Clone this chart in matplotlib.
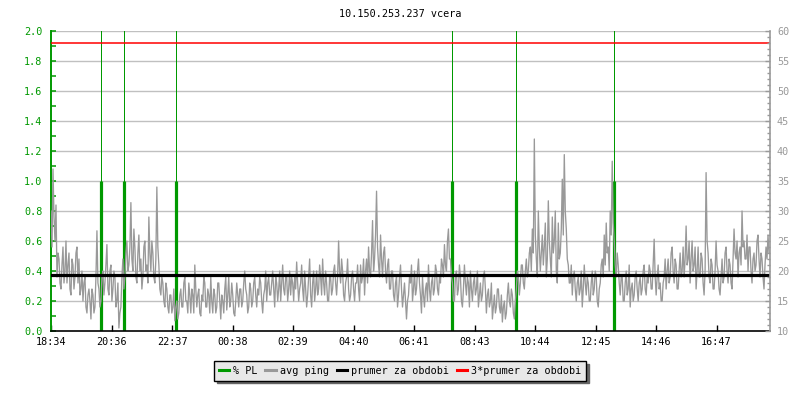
import matplotlib
matplotlib.use("Agg")
import matplotlib.pyplot as plt
from matplotlib.lines import Line2D
import numpy as np

plt.rcParams['font.family'] = ['DejaVu Sans Mono']

title = "10.150.253.237 vcera"
tick_labels = ["18:34", "20:36", "22:37", "00:38", "02:39", "04:40", "06:41",
               "08:43", "10:44", "12:45", "14:46", "16:47"]
tick_minutes = [0, 122, 243, 364, 485, 606, 727, 849, 970, 1091, 1212, 1333]
span_minutes = 1440

# avg ping (ms), one sample every 2 minutes starting 18:34
avg_ping = [
    30, 24, 37, 29, 25, 31, 19, 23, 22, 18, 17, 21, 24, 18, 20, 25, 18, 21, 23, 17,
    16, 22, 21, 17, 19, 23, 24, 18, 22, 16, 17, 20, 15, 18, 19, 14, 13, 16, 17, 15,
    12, 17, 16, 13, 14, 19, 26.7, 18, 17, 14, 15, 19, 20, 16, 18, 21, 24.4, 17, 16, 20,
    21, 15, 17, 20, 19, 14, 15, 18, 10.5, 13, 14, 19, 22, 17, 19, 23, 25, 20, 21, 24,
    31.4, 22, 20, 27, 24, 19, 18, 23, 26, 20, 22, 17, 19, 24, 25, 20, 21, 18, 29, 23,
    20, 25, 23, 19, 18, 22, 34, 24, 21, 17, 16, 19, 18, 15, 14, 18, 17, 14, 13, 16,
    16, 13, 14, 17, 11.7, 14, 15, 12, 13, 16, 17, 14, 14, 18, 19, 15, 15, 13, 18, 16,
    13, 17, 16, 13, 21, 17, 14, 16, 17, 13, 12.5, 16, 15, 19, 18, 14, 14, 17, 16, 13,
    19, 15, 13, 17, 16, 13, 14, 18, 18, 15, 12, 16, 15, 13, 17, 19, 13.5, 16, 19, 14,
    15, 18, 16, 13, 12.5, 15, 18, 16, 14, 17, 17, 14, 15, 18, 20, 17, 16, 13, 14, 18,
    17, 14, 15, 18, 19, 16, 14, 17, 16, 19, 18, 15, 13, 16, 17, 20, 15, 18, 19, 16,
    16, 18, 20, 17, 14, 19, 18, 15, 17, 20, 15, 18, 21, 17, 16, 19, 19, 15, 17, 20,
    16, 19, 18, 15, 19, 17, 21.5, 18, 15, 17, 18, 21, 17, 15, 20, 17, 14, 16, 19, 22,
    16, 14, 18, 20, 15, 17, 20, 16, 17, 21, 19, 16, 22, 18, 16, 20, 18, 15, 15, 19,
    19, 16, 17, 20, 21, 18, 16, 19, 25, 20, 18, 22, 20, 16, 15, 18, 19, 22, 17, 15,
    16, 19, 20, 17, 15, 18, 18, 21, 17, 15, 21, 18, 19, 22, 16, 20, 22, 18, 24, 20,
    19, 23, 28.4, 20, 22, 26, 33.3, 24, 21, 19, 26, 22, 19, 23, 24, 20, 18, 21, 22, 17,
    17, 20, 20, 16, 15, 18, 19, 14, 16, 19, 21, 17, 14, 16, 18, 15, 12, 15, 16, 19,
    18, 21, 15, 17, 20, 16, 17, 20, 22, 18, 16, 13, 19, 16, 14, 17, 18, 15, 21, 17,
    15, 18, 19, 16, 17, 21, 20, 17, 16, 19, 18, 22, 21, 19, 24.4, 21, 20, 25, 27, 22,
    22, 19, 18, 15, 15, 19, 20, 16, 17, 21, 19, 15, 14, 17, 21, 18, 16, 19, 18, 14,
    20, 17, 15, 18, 19, 16, 17, 20, 14, 16, 18, 15, 16, 19, 20, 17, 13, 16, 17, 14,
    15, 18, 12, 14, 16, 13, 14, 17, 17, 14, 13, 16, 11.5, 14, 15, 12, 13, 16, 18, 15,
    14, 17, 16, 13, 12, 15, 17, 20, 19, 16, 18, 21, 21, 18, 17, 20, 22, 19, 20, 23,
    24, 20, 27, 23, 42, 26, 22, 19, 30, 24, 20, 23, 26, 21, 24, 28, 19, 22, 31.7, 25,
    22, 19, 29, 23, 25, 30, 20, 18, 28, 22, 23, 27, 35.3, 26, 39.4, 30, 27, 22, 21, 18,
    18, 21, 16, 19, 20, 17, 15, 18, 19, 16, 17, 20, 14, 17, 21, 18, 16, 19, 18, 15,
    15, 18, 20, 16, 17, 20, 19, 15, 14, 17, 18, 21, 22, 19, 26, 21, 28, 23, 24, 20,
    30, 26, 38.3, 28, 25, 21, 19, 23, 21, 18, 16, 19, 19, 15, 15, 18, 20, 16, 17, 21,
    14, 17, 18, 15, 16, 19, 20, 17, 15, 18, 19, 16, 17, 20, 21, 17, 16, 19, 18, 21,
    20, 17, 17, 21, 25.3, 19, 16, 19, 21, 17, 18, 15, 15, 18, 19, 22, 17, 20, 22, 18,
    19, 23, 24, 20, 18, 22, 21, 17, 17, 20, 23, 19, 20, 24, 19, 22, 27.5, 21, 22, 25,
    18, 22, 25, 20, 21, 24, 17, 20, 24, 19, 19, 23, 22, 18, 16, 20, 36.4, 25, 23, 19,
    18, 22, 21, 17, 17, 20, 25, 21, 20, 17, 16, 19, 22, 18, 19, 23, 24, 20, 18, 22,
    21, 18, 17, 22, 27, 23, 22, 25, 19, 23, 24, 21, 30, 24, 25, 22, 22, 26, 20, 24,
    24, 20, 18, 22, 23, 20, 21, 25, 26, 22, 19, 23, 22, 19, 17, 21, 24, 22, 26, 23,
]

# packet loss events (minutes after 18:34) and loss in %
pl_minutes = [100, 146, 250, 804, 932, 1128]
pl_values = [1.0, 1.0, 1.0, 1.0, 1.0, 1.0]

mean_pl_axis = 0.373   # "prumer za obdobi" on the % PL scale
left_lim = (0.0, 2.0)
right_lim = (10, 60)

GREEN = "#009900"
GRAY = "#999999"
GRID = "#c0c0c0"

fig = plt.figure(figsize=(8, 4), dpi=100)
ax = fig.add_axes([51 / 800, 69 / 400, 719 / 800, 300 / 400])
ax2 = ax.twinx()

ax.set_xlim(0, span_minutes)
ax.set_ylim(*left_lim)
ax2.set_ylim(*right_lim)

# grid
for v in np.arange(0.2, 2.01, 0.2):
    ax.axhline(v, color=GRID, lw=1.0, zorder=1)

# packet loss
for m, v in zip(pl_minutes, pl_values):
    ax.axvline(m, color=GREEN, lw=0.72, zorder=2, antialiased=False)
    ax.vlines(m, 0, v, color=GREEN, lw=2.3, zorder=2)

# avg ping on right scale -> converted to the left scale to keep drawing order
x = np.linspace(0, span_minutes, len(avg_ping), endpoint=False)
ping = np.array(avg_ping, dtype=float)
ping_left = (ping - right_lim[0]) / (right_lim[1] - right_lim[0]) * (left_lim[1] - left_lim[0])
ax.plot(x, ping_left, color=GRAY, lw=0.95, zorder=3)

# mean and 3*mean
ax.axhline(mean_pl_axis, color="black", lw=2.3, zorder=4)
mean_ping = right_lim[0] + mean_pl_axis / left_lim[1] * (right_lim[1] - right_lim[0])
three_mean = 3 * mean_ping
ax.axhline((three_mean - right_lim[0]) / (right_lim[1] - right_lim[0]) * left_lim[1],
           color="red", lw=1.1, zorder=5)

# left axis
ax.set_yticks(np.arange(0, 2.01, 0.2))
ax.set_yticklabels([f"{v:.1f}" for v in np.arange(0, 2.01, 0.2)], color=GREEN, fontsize=7.3)
ax.set_yticks(np.arange(0.1, 2.0, 0.2), minor=True)
ax.tick_params(axis='y', which='both', direction='in', color=GREEN, length=3.5, width=1.1, pad=6)
ax.spines['left'].set_color(GREEN)
ax.spines['left'].set_linewidth(1.4)
ax.spines['top'].set_visible(False)
ax.spines['right'].set_visible(False)
ax.spines['bottom'].set_color('black')
ax.spines['bottom'].set_linewidth(1.2)

# x axis
ax.set_xticks(tick_minutes)
ax.set_xticklabels(tick_labels, fontsize=7.3)
ax.tick_params(axis='x', direction='in', length=4, width=1, pad=4, color='black')

# right axis
ax2.set_yticks(np.arange(10, 61, 5))
ax2.set_yticklabels([str(v) for v in range(10, 61, 5)], color=GRAY, fontsize=7.3)
ax2.set_yticks(np.arange(10, 61, 1), minor=True)
ax2.tick_params(axis='y', which='major', direction='in', color=GRAY, length=3.5, width=1, pad=5)
ax2.tick_params(axis='y', which='minor', direction='in', color=GRAY, length=2.5, width=1)
ax2.spines['right'].set_color(GRAY)
ax2.spines['right'].set_linewidth(1.2)
ax2.spines['left'].set_visible(False)
ax2.spines['top'].set_visible(False)
ax2.spines['bottom'].set_visible(False)

fig.text(0.5, 1 - 14 / 400, title, ha='center', va='center', fontsize=7.3)

handles = [Line2D([], [], color=GREEN, lw=2.2),
           Line2D([], [], color=GRAY, lw=2.2),
           Line2D([], [], color="black", lw=2.2),
           Line2D([], [], color="red", lw=2.2)]
labels = ["% PL", "avg ping", "prumer za obdobi", "3*prumer za obdobi"]
leg = fig.legend(handles, labels, loc='center', bbox_to_anchor=(0.5, 1 - 371 / 400),
                 ncol=4, fontsize=7.3, frameon=True, fancybox=False,
                 shadow={'color': '#666666', 'alpha': 1},
                 edgecolor='black', facecolor='#e8e8e8', framealpha=1,
                 handlelength=1.0, handletextpad=0.4, columnspacing=0.8,
                 borderpad=0.45, borderaxespad=0)
leg.get_frame().set_linewidth(1.0)

fig.savefig("out.png", dpi=100)
